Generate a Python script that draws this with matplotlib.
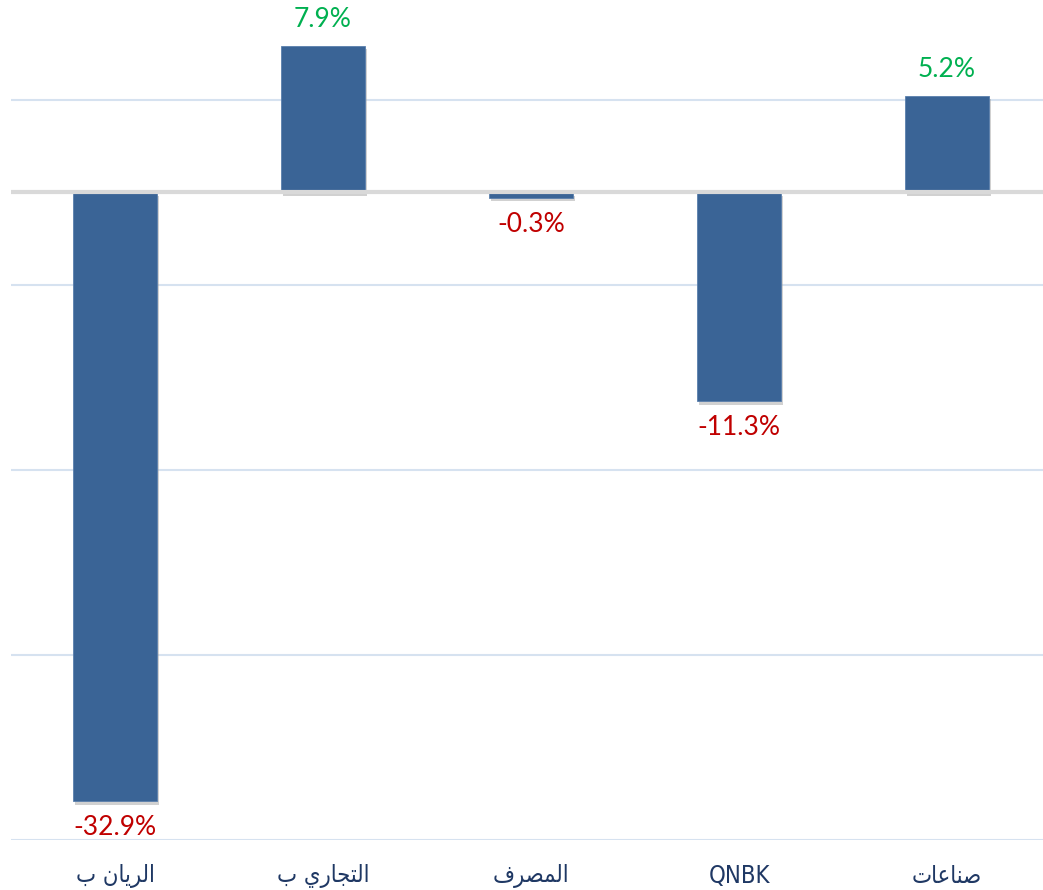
import matplotlib.pyplot as plt
import matplotlib.patheffects as pe

# Data
categories = ["الريان ب", "التجاري ب", "المصرف", "QNBK", "صناعات"]
changes = [-32.9, 7.9, -0.3, -11.3, 5.2]

# Minimal Arabic shaping (matplotlib has no bidi / joining support)
forms = {
    "ا": ("\uFE8D", "\uFE8E", None, None),
    "ب": ("\uFE8F", "\uFE90", "\uFE91", "\uFE92"),
    "ت": ("\uFE95", "\uFE96", "\uFE97", "\uFE98"),
    "ج": ("\uFE9D", "\uFE9E", "\uFE9F", "\uFEA0"),
    "ر": ("\uFEAD", "\uFEAE", None, None),
    "ص": ("\uFEB9", "\uFEBA", "\uFEBB", "\uFEBC"),
    "ع": ("\uFEC9", "\uFECA", "\uFECB", "\uFECC"),
    "ف": ("\uFED1", "\uFED2", "\uFED3", "\uFED4"),
    "ل": ("\uFEDD", "\uFEDE", "\uFEDF", "\uFEE0"),
    "م": ("\uFEE1", "\uFEE2", "\uFEE3", "\uFEE4"),
    "ن": ("\uFEE5", "\uFEE6", "\uFEE7", "\uFEE8"),
    "ي": ("\uFEF1", "\uFEF2", "\uFEF3", "\uFEF4"),
}


def shape(word):
    if not any(c in forms for c in word):
        return word
    out = []
    for i, c in enumerate(word):
        if c not in forms:
            out.append(c)
            continue
        prev = word[i - 1] if i > 0 else None
        nxt = word[i + 1] if i + 1 < len(word) else None
        iso, fin, ini, med = forms[c]
        joins_prev = prev in forms and forms[prev][2] is not None
        joins_next = nxt in forms and ini is not None
        if joins_prev and joins_next:
            out.append(med)
        elif joins_prev:
            out.append(fin)
        elif joins_next:
            out.append(ini)
        else:
            out.append(iso)
    return "".join(reversed(out))


plt.rcParams["font.family"] = ["Lato", "DejaVu Sans"]

W, H = 1043, 890
fig = plt.figure(figsize=(W / 100, H / 100), dpi=100)
ax = fig.add_axes([11 / W, (H - 840) / H, 1040 / W, (840 - 7) / H])

x = list(range(len(categories)))
bar_col = "#3A6496"
bars = ax.bar(x, changes, width=0.4, color=bar_col, edgecolor="#5A7FAD", linewidth=0.6, zorder=3,
              path_effects=[pe.SimplePatchShadow(offset=(1.5, -2.5), shadow_rgbFace="#9a9a9a", alpha=0.45),
                            pe.Normal()])

ax.set_xlim(-0.5, 4.5)
ax.set_ylim(-35, 10)
for g in [-35, -25, -15, -5, 5]:
    ax.axhline(g, color="#D6E2F0", linewidth=1.5, zorder=1)
ax.axhline(0, color="#D9D9D9", linewidth=3, zorder=4)

for xi, v in zip(x, changes):
    if v >= 0:
        ax.annotate(f"{v:.1f}%", (xi, v), xytext=(0, 10), textcoords="offset points",
                    ha="center", va="bottom", color="#00B050", fontsize=19, zorder=5)
    else:
        ax.annotate(f"{v:.1f}%", (xi, v), xytext=(0, -10), textcoords="offset points",
                    ha="center", va="top", color="#C00000", fontsize=19, zorder=5)

ax.set_xticks(x)
ax.set_xticklabels([shape(c) for c in categories], color="#1F3864", fontsize=17,
                   family=["Liberation Sans Narrow", "DejaVu Sans"], fontstretch="condensed")
ax.tick_params(axis="x", length=0, pad=17)
ax.set_yticks([])
for s in ax.spines.values():
    s.set_visible(False)

fig.savefig("out.png", dpi=100)
